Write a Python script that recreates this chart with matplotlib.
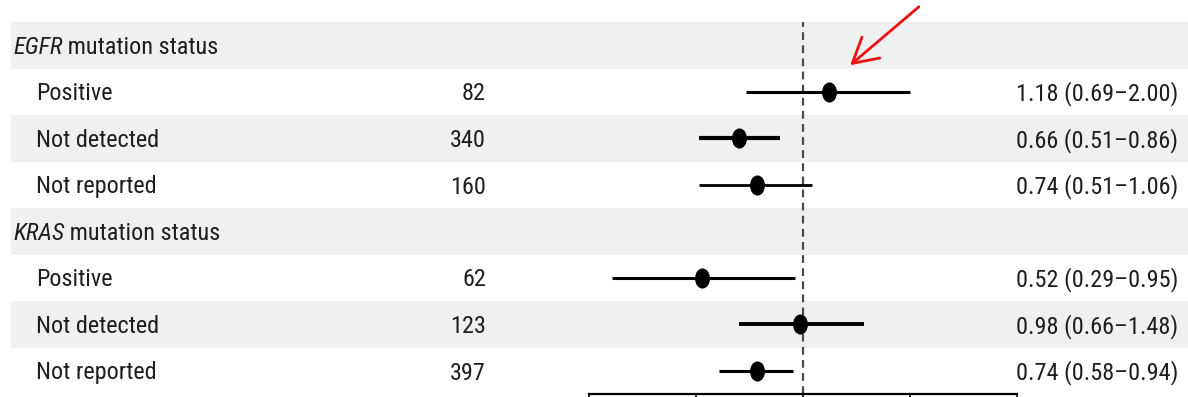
import numpy as np
import matplotlib
matplotlib.use("Agg")
import matplotlib.pyplot as plt
from matplotlib import font_manager
from matplotlib.path import Path
from matplotlib.transforms import Affine2D

# rows of the table, top to bottom
groups = ["EGFR", "KRAS"]
subgroups = ["Positive", "Not detected", "Not reported"]
n_patients = [[82, 340, 160], [62, 123, 397]]
hazard = [[1.18, 0.66, 0.74], [0.52, 0.98, 0.74]]
ci_low = [[0.69, 0.51, 0.51], [0.29, 0.66, 0.58]]
ci_high = [[2.00, 0.86, 1.06], [0.95, 1.48, 0.94]]
x_ticks = [0.25, 0.5, 1.0, 2.0, 4.0]

# line widths of the CI bars as drawn
ci_lw = [[2.2, 3.0, 2.0], [2.2, 2.8, 2.2]]

W, H = 1188, 397

# pick a narrow face if one is installed
installed = {f.name for f in font_manager.fontManager.ttflist}
narrow = [n for n in ["Liberation Sans Narrow", "DejaVu Sans Condensed",
                      "Roboto Condensed", "Open Sans Condensed", "Noto Sans Condensed"]
          if n in installed]
if narrow:
    FONT = [narrow[0], "DejaVu Sans"]
    FS = 17.5
    STRETCH = "normal"
else:
    FONT = ["DejaVu Sans"]
    FS = 16
    STRETCH = "condensed"
TXT = "#1e1e1e"
BAND = "#eff0f0"

fig = plt.figure(figsize=(W / 100, H / 100), dpi=100)
fig.patch.set_facecolor("white")

top_px, bot_px = 22, 394
n_rows = 8
ax_box = [0, 1 - bot_px / H, 1, (bot_px - top_px) / H]

tab = fig.add_axes(ax_box)
tab.set_xlim(0, W)
tab.set_ylim(n_rows - 0.5, -0.5)
tab.axis("off")

fp = fig.add_axes([589 / W, ax_box[1], (1017 - 589) / W, ax_box[3]])
fp.patch.set_alpha(0)
fp.set_xscale("log", base=2)
fp.set_xlim(x_ticks[0], x_ticks[-1])
fp.set_ylim(n_rows - 0.5, -0.5)
fp.set_xticks(x_ticks)
fp.set_xticklabels([])
fp.xaxis.set_minor_locator(matplotlib.ticker.NullLocator())
fp.set_yticks([])
for s in ["top", "left", "right"]:
    fp.spines[s].set_visible(False)
fp.spines["bottom"].set_linewidth(1.6)
fp.tick_params(axis="x", direction="out", length=6, width=1.2)

# ellipse marker (taller than wide)
circ = Path.unit_circle()
ell = Affine2D().scale(0.72, 1.0).transform_path(circ)

base_off = 0.72 * FS * 100 / 72 / 2 / ((bot_px - top_px) / n_rows)
kw = dict(fontsize=FS, family=FONT, fontstretch=STRETCH, color=TXT, va="baseline")

row = 0
for g, grp in enumerate(groups):
    if row % 2 == 0:
        tab.axhspan(row - 0.5, row + 0.5, xmin=11 / W, xmax=1, color=BAND, lw=0, zorder=0)
    t = tab.text(13, row + base_off, grp, style="italic", ha="left", **kw)
    tab.annotate(" mutation status", xy=(1, 0), xycoords=t, va="bottom", ha="left",
                 fontsize=FS, family=FONT, fontstretch=STRETCH, color=TXT)
    row += 1
    for k, sub in enumerate(subgroups):
        if row % 2 == 0:
            tab.axhspan(row - 0.5, row + 0.5, xmin=11 / W, xmax=1, color=BAND, lw=0, zorder=0)
        tab.text(36, row + base_off, sub, ha="left", **kw)
        tab.text(486, row + base_off, str(n_patients[g][k]), ha="right", **kw)
        hr_txt = f"{hazard[g][k]:.2f} ({ci_low[g][k]:.2f}\u2013{ci_high[g][k]:.2f})"
        tab.text(1178, row + base_off, hr_txt, ha="right", **kw)
        fp.plot([ci_low[g][k], ci_high[g][k]], [row, row], color="black",
                lw=ci_lw[g][k], solid_capstyle="butt", zorder=3)
        fp.plot(hazard[g][k], row, marker=ell, markersize=13.5, color="black", zorder=4)
        row += 1

fp.axvline(1.0, color="#4a4a4a", lw=1.6, dashes=(3.5, 2.4), zorder=2)

# red arrow pointing to the EGFR positive estimate
fig.patches.append(matplotlib.patches.FancyArrowPatch(
    (921 / W, 1 - 5 / H), (848 / W, 1 - 67 / H), transform=fig.transFigure,
    arrowstyle="->,head_length=0.8,head_width=0.45", mutation_scale=22,
    color="#ee1111", lw=2.0))

fig.savefig("out.png", dpi=100)
